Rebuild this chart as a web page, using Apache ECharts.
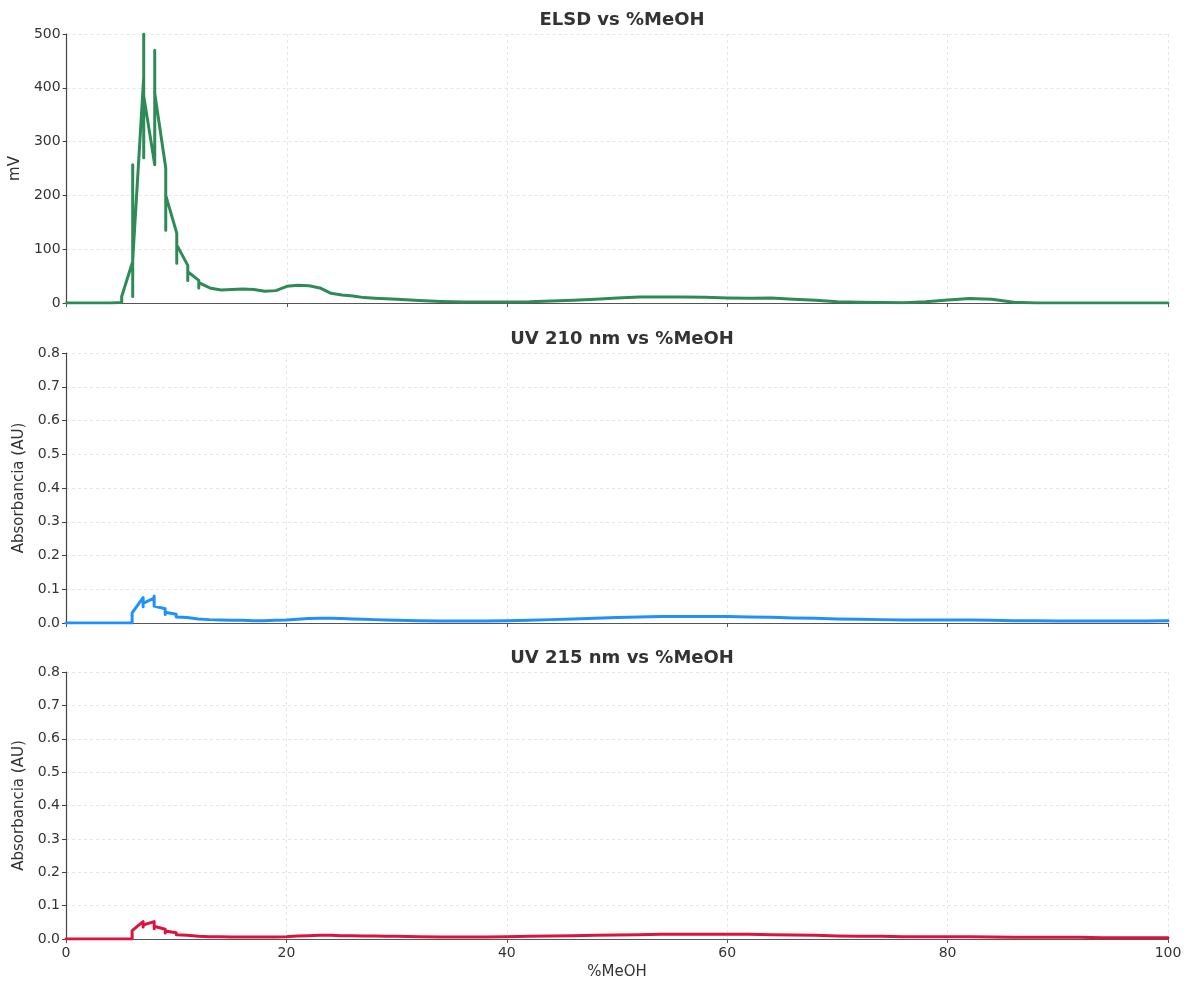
<!DOCTYPE html>
<html>
<head>
<meta charset="utf-8">
<script src="https://cdn.jsdelivr.net/npm/echarts@6/dist/echarts.min.js"></script>
<style>
html,body{margin:0;padding:0;background:#fff;}
#chart{width:1192px;height:981px;}
</style>
</head>
<body>
<div id="chart"></div>
<script>
// %MeOH of each sample (several samples share one integer %MeOH value)
const xs = [0,1,2,3,4,5,5,
  6,6,6,6, 7,7,7,7, 8,8,8,8, 9,9,9,9, 10,10,10,10,
  11,11,11,11, 12,12,12,12,
  13,14,15,16,17,18,19,20,21,22,23,24,25,26,27,28,29,30,
  32,34,36,38,40,42,44,46,48,50,52,54,56,58,60,62,64,66,68,70,72,74,76,78,80,82,84,86,88,90,92,94,96,98,100];

const elsd = [0,0,0,0,0,1,12,
  77,12,257,80, 420,500,270,385, 257,470,300,390, 251,135,240,200, 130,74,125,108,
  70,42,62,58, 42,28,38,35,
  28,24,25,26,25,22,23,31,33,32,28,18,15,13,10,9,8,7,
  4.5,2.8,2,1.8,1.9,2.2,3.5,5.2,7,9.5,11,11,11,10.5,9.5,8.7,9.3,7,5,2.5,1.5,1,0.6,2.5,5.6,8.5,7,1.5,0.2,0,0,0,0,0,0];

const uv210 = [0,0,0,0,0,0,0,
  0,0.03,0.008,0.03, 0.075,0.08,0.048,0.058, 0.074,0.08,0.05,0.054, 0.042,0.044,0.025,0.032, 0.026,0.028,0.018,0.022,
  0.016,0.017,0.013,0.014, 0.012,0.013,0.011,0.011,
  0.010,0.009,0.008,0.008,0.007,0.007,0.008,0.009,0.011,0.013,0.014,0.014,0.013,0.012,0.011,0.010,0.009,0.008,
  0.007,0.006,0.006,0.006,0.007,0.008,0.010,0.012,0.014,0.016,0.018,0.019,0.019,0.019,0.019,0.018,0.017,0.015,0.014,0.012,0.011,0.010,0.009,0.009,0.009,0.009,0.008,0.007,0.007,0.006,0.006,0.006,0.006,0.006,0.007];

const uv215 = [0,0,0,0,0,0,0,
  0,0.025,0.006,0.025, 0.052,0.057,0.036,0.042, 0.052,0.057,0.031,0.038, 0.029,0.030,0.018,0.024, 0.019,0.020,0.013,0.016,
  0.011,0.012,0.009,0.010, 0.008,0.009,0.007,0.008,
  0.007,0.007,0.006,0.006,0.006,0.006,0.006,0.007,0.009,0.010,0.011,0.011,0.010,0.010,0.009,0.009,0.008,0.008,
  0.007,0.006,0.006,0.006,0.007,0.008,0.009,0.010,0.011,0.012,0.013,0.014,0.014,0.014,0.014,0.014,0.013,0.012,0.011,0.009,0.008,0.008,0.007,0.007,0.007,0.007,0.006,0.005,0.005,0.005,0.005,0.004,0.004,0.004,0.004];

const titles = ['ELSD vs %MeOH', 'UV 210 nm vs %MeOH', 'UV 215 nm vs %MeOH'];
const yNames = ['mV', 'Absorbancia (AU)', 'Absorbancia (AU)'];
const colors = ['#2E8B57', '#1E90FF', '#DC143C'];
const xName = '%MeOH';

const FONT = 'DejaVu Sans';
const TXT = '#333';
const pair = arr => xs.map((x, i) => [x, arr[i]]);

const grids = [
  {left: 66, right: 24, top: 34, height: 269},
  {left: 66, right: 24, top: 353, height: 270},
  {left: 66, right: 24, top: 672, height: 270}
];
const titleTops = [6, 325, 644];
const yRanges = [[0, 500, 100], [0, 0.8, 0.1], [0, 0.8, 0.1]];

const splitLine = {show: true, lineStyle: {color: '#e6e6e6', type: [3, 3], width: 1}};

const option = {
  animation: false,
  backgroundColor: '#fff',
  textStyle: {fontFamily: FONT},
  title: titles.map((t, i) => ({
    text: t, left: 617, top: titleTops[i], textAlign: 'center',
    textStyle: {fontFamily: FONT, fontSize: 18, fontWeight: 'bold', color: TXT}
  })),
  grid: grids,
  xAxis: [0, 1, 2].map(i => ({
    type: 'value', gridIndex: i, min: 0, max: 100, interval: 20,
    name: i === 2 ? xName : '', nameLocation: 'middle', nameGap: 26,
    nameTextStyle: {fontFamily: FONT, fontSize: 15, color: TXT},
    axisLine: {show: true, onZero: false, lineStyle: {color: '#555', width: 1.2}},
    axisTick: {show: true, length: 4, lineStyle: {color: '#555'}},
    axisLabel: {show: i === 2, fontFamily: FONT, fontSize: 14, color: TXT, margin: 7},
    splitLine: splitLine
  })),
  yAxis: [0, 1, 2].map(i => ({
    type: 'value', gridIndex: i, min: yRanges[i][0], max: yRanges[i][1], interval: yRanges[i][2],
    name: yNames[i], nameLocation: 'middle', nameGap: i === 0 ? 42 : 38,
    nameTextStyle: {fontFamily: FONT, fontSize: 15, color: TXT},
    axisLine: {show: true, lineStyle: {color: '#444', width: 1.2}},
    axisTick: {show: true, length: 4, lineStyle: {color: '#444'}},
    axisLabel: {fontFamily: FONT, fontSize: 14, color: TXT, margin: 6,
      formatter: v => i === 0 ? String(Math.round(v)) : v.toFixed(1)},
    splitLine: splitLine
  })),
  series: [elsd, uv210, uv215].map((arr, i) => ({
    type: 'line', xAxisIndex: i, yAxisIndex: i, data: pair(arr),
    showSymbol: false, symbol: 'none', smooth: false,
    lineStyle: {color: colors[i], width: 3, join: 'round', cap: 'round'}, itemStyle: {color: colors[i]}
  }))
};

const chart = echarts.init(document.getElementById('chart'), null, {renderer: 'canvas'});
chart.setOption(option);
</script>
</body>
</html>
